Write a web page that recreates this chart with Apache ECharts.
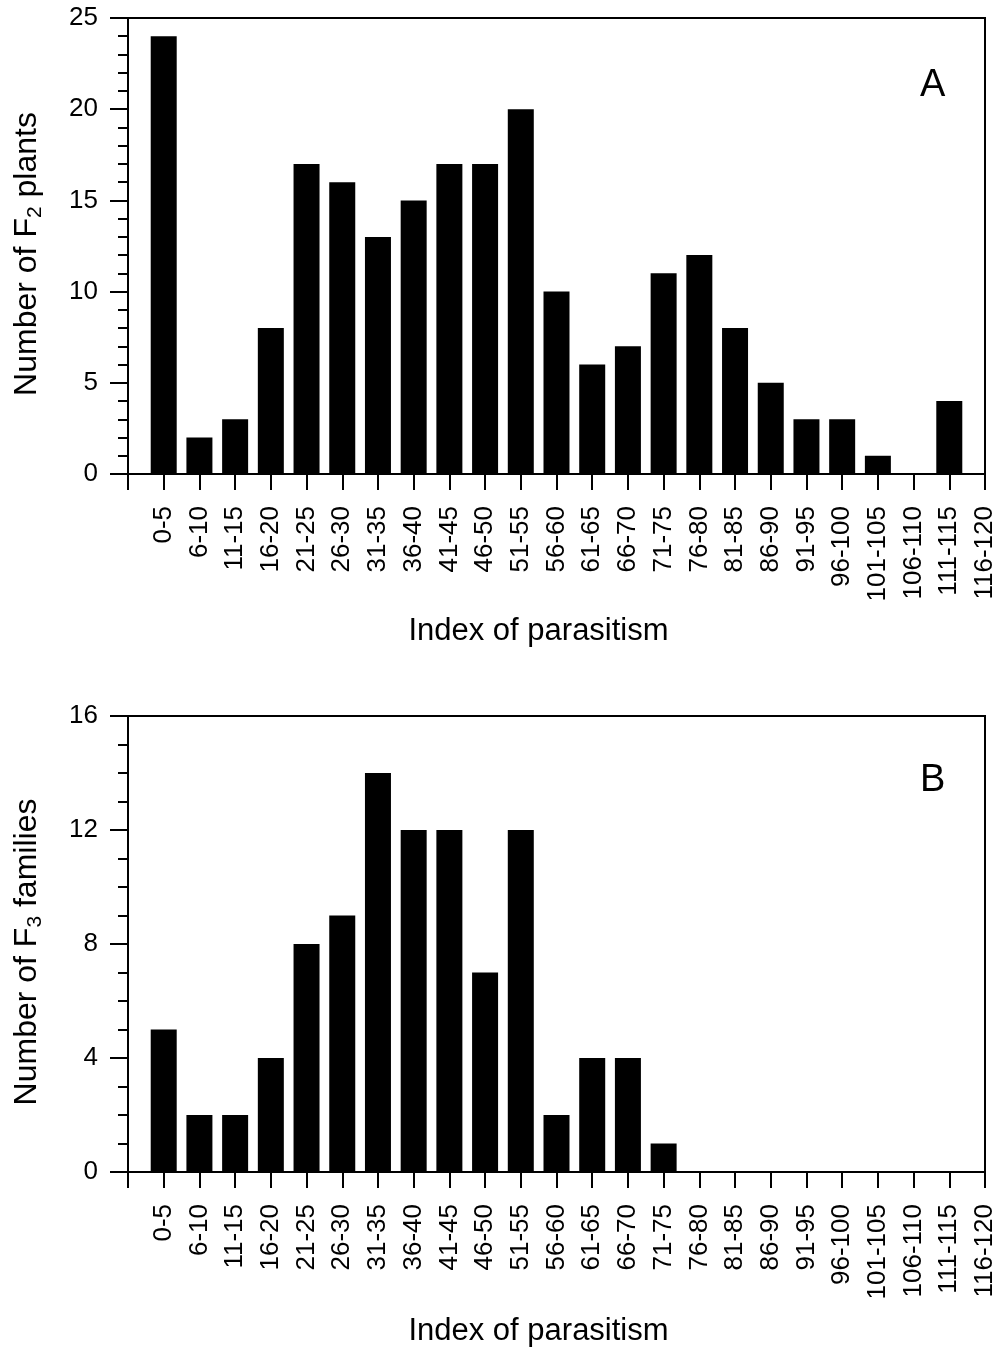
<!DOCTYPE html>
<html><head><meta charset="utf-8">
<script src="https://cdn.jsdelivr.net/npm/echarts@6/dist/echarts.min.js"></script>
<style>html,body{margin:0;padding:0;background:#fff}#c{width:1001px;height:1349px}</style>
</head><body><div id="c"></div>
<script>
const categories = ['', '0-5','6-10','11-15','16-20','21-25','26-30','31-35','36-40','41-45','46-50','51-55','56-60','61-65','66-70','71-75','76-80','81-85','86-90','91-95','96-100','101-105','106-110','111-115','116-120'];
const valuesA = [null, 24,2,3,8,17,16,13,15,17,17,20,10,6,7,11,12,8,5,3,3,1,0,4,0];
const valuesB = [null, 5,2,2,4,8,9,14,12,12,7,12,2,4,4,1,0,0,0,0,0,0,0,0,0];
const yTicksA = {min:0, max:25, interval:5, minorSplit:5};
const yTicksB = {min:0, max:16, interval:4, minorSplit:4};

const FONT = 'Liberation Sans';
const chart = echarts.init(document.getElementById('c'), null, {renderer:'canvas'});
function xAxis(gi, gap){
  return {
    type:'category', gridIndex:gi, data:categories, boundaryGap:false,
    axisLine:{lineStyle:{color:'#000', width:2}},
    axisTick:{show:true, length:16, lineStyle:{color:'#000', width:2}, alignWithLabel:true, interval:0},
    axisLabel:{interval:0, rotate:90, color:'#000', fontFamily:FONT, fontSize:26, margin:32},
    name:'Index of parasitism', nameLocation:'middle', nameGap:gap, nameMoveOverlap:false,
    nameTextStyle:{color:'#000', fontFamily:FONT, fontSize:31, verticalAlign:'top', padding:[0,36,0,0]}
  };
}
function yAxis(gi, t, sub, rest){
  return {
    type:'value', gridIndex:gi, min:t.min, max:t.max, interval:t.interval,
    axisLine:{show:true, lineStyle:{color:'#000', width:2}},
    axisTick:{show:true, length:18, lineStyle:{color:'#000', width:2}},
    minorTick:{show:true, splitNumber:t.minorSplit, length:10, lineStyle:{color:'#000', width:2}},
    splitLine:{show:false},
    axisLabel:{color:'#000', fontFamily:FONT, fontSize:26, margin:30},
    name:'{a|Number of F}{s|' + sub + '}{a|' + rest + '}', nameLocation:'middle', nameGap:82, nameMoveOverlap:false,
    nameTextStyle:{color:'#000', fontFamily:FONT, fontSize:32, padding:[0,16,0,0],
      rich:{a:{fontFamily:FONT, fontSize:32, color:'#000', lineHeight:38},
            s:{fontFamily:FONT, fontSize:21, color:'#000', lineHeight:38, verticalAlign:'bottom', padding:[12,0,0,0]}}}
  };
}
chart.setOption({
  animation:false,
  grid:[
    {left:128, top:18, width:857, height:456, show:true, borderColor:'#000', borderWidth:2},
    {left:128, top:716, width:857, height:456, show:true, borderColor:'#000', borderWidth:2}
  ],
  xAxis:[xAxis(0, 142), xAxis(1, 144)],
  yAxis:[yAxis(0, yTicksA, '2', ' plants'), yAxis(1, yTicksB, '3', ' families')],
  series:[
    {type:'bar', xAxisIndex:0, yAxisIndex:0, data:valuesA, barWidth:26, itemStyle:{color:'#000'}},
    {type:'bar', xAxisIndex:1, yAxisIndex:1, data:valuesB, barWidth:26, itemStyle:{color:'#000'}}
  ],
  graphic:[
    {type:'text', left:920, top:67, style:{text:'A', fontFamily:FONT, fontSize:38, fill:'#000'}},
    {type:'text', left:920, top:762, style:{text:'B', fontFamily:FONT, fontSize:38, fill:'#000'}}
  ]
});
</script></body></html>
